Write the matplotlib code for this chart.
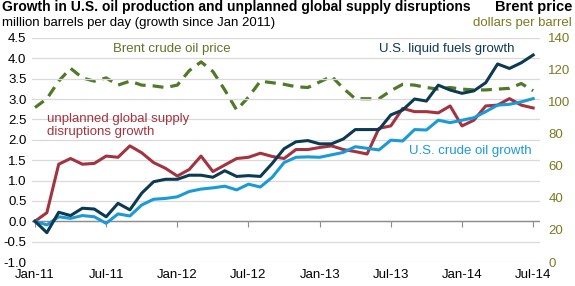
import matplotlib
matplotlib.use("Agg")
import matplotlib.pyplot as plt

plt.rcParams['font.family'] = ['Liberation Sans', 'DejaVu Sans']

# monthly, Jan-11 .. Jul-14
months = list(range(43))
tick_months = [0, 6, 12, 18, 24, 30, 36, 42]
tick_labels = ["Jan-11", "Jul-11", "Jan-12", "Jul-12", "Jan-13", "Jul-13", "Jan-14", "Jul-14"]

# million barrels per day, growth since Jan 2011
liquid_fuels = [0.0, -0.28, 0.22, 0.14, 0.32, 0.30, 0.11, 0.44, 0.28, 0.69,
                0.97, 1.03, 1.03, 1.13, 1.13, 1.08, 1.24, 1.10, 1.12, 1.10,
                1.42, 1.78, 1.95, 1.98, 1.90, 1.90, 2.02, 2.25, 2.25, 2.25,
                2.61, 2.73, 3.00, 2.95, 3.34, 3.22, 3.14, 3.20, 3.40, 3.86,
                3.75, 3.89, 4.08]
crude_oil = [0.0, -0.09, 0.11, 0.07, 0.14, 0.11, -0.05, 0.18, 0.13, 0.40,
             0.54, 0.56, 0.60, 0.73, 0.79, 0.82, 0.86, 0.77, 0.91, 0.84,
             1.08, 1.44, 1.57, 1.58, 1.57, 1.63, 1.69, 1.83, 1.79, 1.75,
             1.99, 1.97, 2.25, 2.24, 2.48, 2.42, 2.48, 2.54, 2.69, 2.85,
             2.87, 2.93, 3.01]
disruptions = [0.0, 0.21, 1.40, 1.54, 1.40, 1.42, 1.60, 1.57, 1.85, 1.68,
               1.44, 1.30, 1.11, 1.27, 1.60, 1.22, 1.38, 1.54, 1.57, 1.67,
               1.59, 1.54, 1.76, 1.76, 1.81, 1.85, 1.76, 1.71, 1.65, 2.28,
               2.34, 2.77, 2.69, 2.69, 2.66, 2.83, 2.34, 2.48, 2.83, 2.85,
               3.01, 2.85, 2.78]
# dollars per barrel
brent = [96.5, 102, 113, 121, 115, 113, 115, 110.5, 113, 110.5,
         110, 109, 110.5, 119.5, 125, 119, 107.5, 95, 103, 113,
         112, 111, 109.5, 109, 112.5, 116, 108.5, 102, 102, 102,
         107, 111, 110.5, 109, 108, 109, 108, 107.5, 107.5, 108,
         108.5, 111.5, 107]

navy = "#0b3a52"
blue = "#1a9ad6"
red = "#a33340"
green = "#4f7a28"
olive = "#7b7a22"

fig = plt.figure(figsize=(5.75, 2.86), dpi=100)
ax = fig.add_axes([0.0557, 0.0839, 0.8835, 0.7836])
ax2 = ax.twinx()

ax.set_xlim(-0.25, 42.58)
ax.set_ylim(-1.0, 4.5)
ax2.set_ylim(0, 140)

ax.set_yticks([-1.0, -0.5, 0.0, 0.5, 1.0, 1.5, 2.0, 2.5, 3.0, 3.5, 4.0, 4.5])
ax.yaxis.set_major_formatter(matplotlib.ticker.FormatStrFormatter('%.1f'))
ax.grid(axis='y', color='#d9d9d9', lw=0.9)
ax.set_axisbelow(True)
ax.axhline(0, color='#8c8c8c', lw=1.0, zorder=1)

ax.set_xticks(tick_months)
ax.set_xticklabels(tick_labels)
ax.tick_params(axis='x', length=0, pad=5, labelsize=9.5)
ax.tick_params(axis='y', length=0, pad=4, labelsize=9.5)

# tick marks sit on the zero line
sec = ax.secondary_xaxis(1.0 / 5.5)
sec.set_xticks(tick_months)
sec.tick_params(axis='x', length=4, color='#8c8c8c', labelbottom=False)
sec.spines['bottom'].set_visible(False)

ax2.set_yticks(range(0, 141, 20))
ax2.tick_params(axis='y', length=0, pad=6, labelsize=9.5, labelcolor=olive)

for a in (ax, ax2):
    for s in a.spines.values():
        s.set_visible(False)

ax2.plot(months, brent, color=green, lw=2.3, dashes=(3.4, 2.2), zorder=2)
ax.set_zorder(ax2.get_zorder() + 1)
ax.patch.set_visible(False)
ax.plot(months, disruptions, color=red, lw=2.2, zorder=3)
ax.plot(months, crude_oil, color=blue, lw=2.2, zorder=3)
ax.plot(months, liquid_fuels, color=navy, lw=2.2, zorder=4)

ax.text(6.6, 4.22, "Brent crude oil price", color="#5f7426", fontsize=9.5, va='center')
ax.text(29.0, 4.22, "U.S. liquid fuels growth", color=navy, fontsize=9.5, va='center')
ax.text(1.0, 2.36, "unplanned global supply\ndisruptions growth", color=red,
        fontsize=9.5, va='center', linespacing=1.1)
ax.text(41.9, 1.73, "U.S. crude oil growth", color=blue, fontsize=9.5, va='center', ha='right')

fig.text(0.0035, 0.9755, "Growth in U.S. oil production and unplanned global supply disruptions",
         fontsize=10, fontweight='bold', va='center', ha='left')
fig.text(0.0035, 0.92, "million barrels per day (growth since Jan 2011)",
         fontsize=9.5, va='center', ha='left')
fig.text(0.995, 0.9755, "Brent price", fontsize=10.5, fontweight='bold', va='center', ha='right')
fig.text(0.995, 0.92, "dollars per barrel", fontsize=9.5, color=olive, va='center', ha='right')

fig.savefig("out.png", dpi=100)
